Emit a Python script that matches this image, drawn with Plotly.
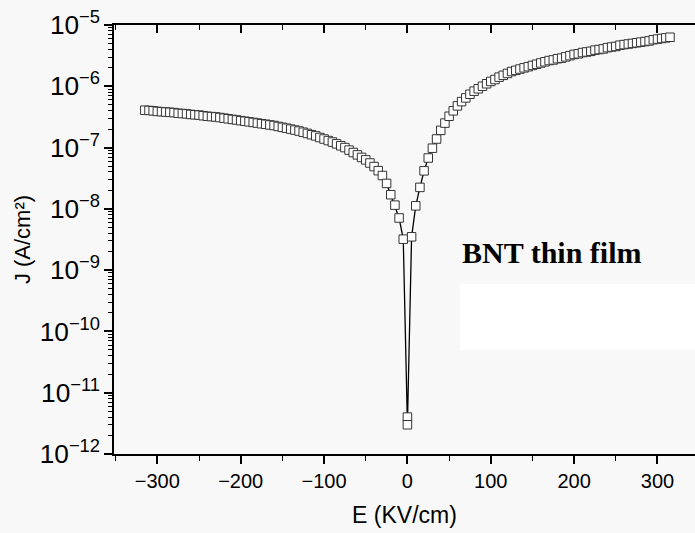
import plotly.graph_objects as go

# Negative sweep: E from -315 to 0 kV/cm
E_neg = [-315, -310, -305, -300, -295, -290, -285, -280, -275, -270, -265, -260,
         -255, -250, -245, -240, -235, -230, -225, -220, -215, -210, -205, -200,
         -195, -190, -185, -180, -175, -170, -165, -160, -155, -150, -145, -140,
         -135, -130, -125, -120, -115, -110, -105, -100, -95, -90, -85, -80,
         -75, -70, -65, -60, -55, -50, -45, -40, -35, -30, -25, -20,
         -15, -10, -5, 0]
J_neg = [4.07e-7, 4.03e-7, 3.98e-7, 3.89e-7, 3.85e-7, 3.80e-7, 3.76e-7, 3.72e-7,
         3.63e-7, 3.59e-7, 3.55e-7, 3.47e-7, 3.43e-7, 3.39e-7, 3.31e-7, 3.24e-7,
         3.20e-7, 3.16e-7, 3.09e-7, 3.02e-7, 2.95e-7, 2.88e-7, 2.82e-7, 2.75e-7,
         2.69e-7, 2.63e-7, 2.57e-7, 2.51e-7, 2.45e-7, 2.40e-7, 2.34e-7, 2.29e-7,
         2.21e-7, 2.14e-7, 2.07e-7, 2.00e-7, 1.93e-7, 1.86e-7, 1.78e-7, 1.70e-7,
         1.62e-7, 1.55e-7, 1.46e-7, 1.38e-7, 1.30e-7, 1.23e-7, 1.15e-7, 1.07e-7,
         1.00e-7, 9.1e-8, 8.3e-8, 7.6e-8, 6.9e-8, 6.3e-8, 5.6e-8, 4.9e-8,
         4.2e-8, 3.5e-8, 2.6e-8, 1.7e-8, 1.15e-8, 7.1e-9, 3.2e-9, 4.0e-12]

# Positive sweep: E from 0 to 315 kV/cm
E_pos = [0, 5, 10, 15, 20, 25, 30, 35, 40, 45, 50, 55, 60, 65, 70, 75,
         80, 85, 90, 95, 100, 105, 110, 115, 120, 125, 130, 135, 140, 145, 150, 155,
         160, 165, 170, 175, 180, 185, 190, 195, 200, 205, 210, 215, 220, 225, 230, 235,
         240, 245, 250, 255, 260, 265, 270, 275, 280, 285, 290, 295, 300, 305, 310, 315]
J_pos = [3.0e-12, 3.5e-9, 1.12e-8, 2.24e-8, 4.17e-8, 6.76e-8, 9.77e-8, 1.38e-7,
         1.91e-7, 2.51e-7, 3.24e-7, 3.98e-7, 4.79e-7, 5.62e-7, 6.46e-7, 7.41e-7,
         8.32e-7, 9.12e-7, 1.00e-6, 1.10e-6, 1.20e-6, 1.29e-6, 1.41e-6, 1.51e-6,
         1.62e-6, 1.74e-6, 1.82e-6, 1.91e-6, 2.00e-6, 2.09e-6, 2.19e-6, 2.29e-6,
         2.40e-6, 2.51e-6, 2.63e-6, 2.69e-6, 2.82e-6, 2.88e-6, 3.02e-6, 3.16e-6,
         3.31e-6, 3.39e-6, 3.55e-6, 3.63e-6, 3.72e-6, 3.89e-6, 3.98e-6, 4.07e-6,
         4.27e-6, 4.37e-6, 4.47e-6, 4.68e-6, 4.79e-6, 4.90e-6, 5.01e-6, 5.13e-6,
         5.25e-6, 5.37e-6, 5.50e-6, 5.75e-6, 5.89e-6, 6.03e-6, 6.17e-6, 6.31e-6]

x_title = "E (KV/cm)"
y_title = "J (A/cm²)"
label = "BNT thin film"

E_all = E_neg + E_pos
J_all = J_neg + J_pos

BG = "#f8f8f8"
FONT = "Liberation Sans, Arial, sans-serif"

fig = go.Figure()
fig.add_trace(go.Scatter(
    x=E_all, y=J_all, mode="lines+markers",
    line=dict(color="black", width=1.3),
    marker=dict(symbol="square", size=8.5, color="white",
                line=dict(color="#333333", width=1)),
    showlegend=False, hoverinfo="skip"))
# invisible trace to activate top mirror axis
fig.add_trace(go.Scatter(x=[E_all[0]], y=[J_all[0]], xaxis="x2", mode="markers",
                         marker=dict(opacity=0), showlegend=False, hoverinfo="skip"))

fig.add_shape(type="rect", xref="paper", yref="paper",
              x0=(460 - 114) / 581, x1=1.0, y0=(454 - 350) / 429, y1=(454 - 284) / 429,
              fillcolor="white", line=dict(width=0), layer="below")

fig.add_annotation(x=173, y=-8.72, xref="x", yref="y", text="<b>" + label + "</b>",
                   showarrow=False,
                   font=dict(family="Liberation Serif, Times New Roman, serif", size=30, color="black"))

XR = [-352, 345]
fig.update_layout(
    width=695, height=533,
    margin=dict(l=114, r=0, t=25, b=79, autoexpand=False),
    paper_bgcolor=BG, plot_bgcolor=BG,
    font=dict(family=FONT, color="black"),
    xaxis=dict(range=XR, showline=True, linecolor="black", linewidth=1.5, automargin=False,
               ticks="outside", ticklen=8, tickwidth=1.5, tickcolor="black",
               tick0=0, dtick=100, showgrid=False, zeroline=False,
               minor=dict(ticks="outside", ticklen=5, tickwidth=1.2, tickcolor="black",
                          dtick=50, showgrid=False),
               tickfont=dict(size=20, family=FONT),
               title=dict(text=x_title, font=dict(size=23, family=FONT), standoff=16)),
    xaxis2=dict(range=XR, overlaying="x", side="top", showline=True, linecolor="black",
                linewidth=1.5, ticks="inside", ticklen=8, tickwidth=1.5, tickcolor="black",
                tick0=0, dtick=100, showticklabels=False, showgrid=False, zeroline=False,
                automargin=False,
                minor=dict(ticks="inside", ticklen=5, tickwidth=1.2, tickcolor="black",
                           dtick=50, showgrid=False)),
    yaxis=dict(type="log", range=[-12, -5], showline=True, linecolor="black", linewidth=1.5,
               ticks="outside", ticklen=8, tickwidth=1.5, tickcolor="black", automargin=False,
               dtick=1, exponentformat="power", showgrid=False, zeroline=False,
               minor=dict(ticks="outside", ticklen=4, tickwidth=1, tickcolor="black",
                          showgrid=False),
               tickfont=dict(size=21, family=FONT),
               title=dict(text=y_title, font=dict(size=22, family=FONT), standoff=3)),
)

fig.write_html("out.html", config={"displayModeBar": False},
               post_script="document.body.style.margin='0';document.body.style.background='%s';" % BG)
